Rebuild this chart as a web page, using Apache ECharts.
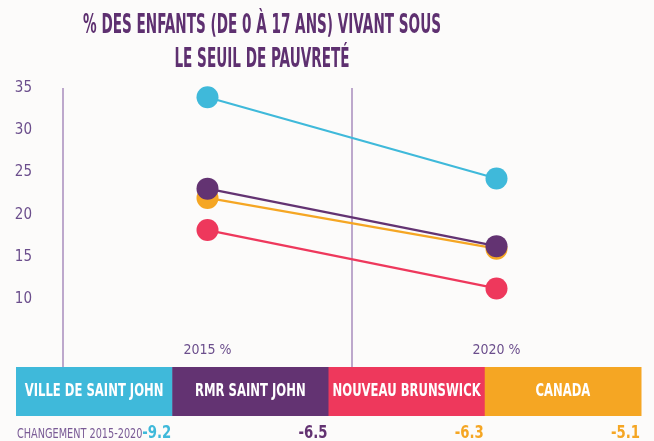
<!DOCTYPE html>
<html>
<head>
<meta charset="utf-8">
<script src="https://cdn.jsdelivr.net/npm/echarts@6/dist/echarts.min.js"></script>
<style>
  html, body { margin: 0; padding: 0; background: #fcfbfa; }
  #graf { width: 654px; height: 441px; }
</style>
</head>
<body>
<div id="graf"></div>
<script>
// Datos del grafico
var titre = ["% DES ENFANTS (DE 0 À 17 ANS) VIVANT SOUS", "LE SEUIL DE PAUVRETÉ"];
var annees = ["2015 %", "2020 %"];
var regions = ["VILLE DE SAINT JOHN", "RMR SAINT JOHN", "NOUVEAU BRUNSWICK", "CANADA"];
var couleurs = ["#3fb9da", "#633372", "#ee385c", "#f5a623"];
var ville = [33.9, 24.3];
var rmr = [23.1, 16.3];
var nb = [18.2, 11.3];
var canada = [22.0, 16.0];
var changements = [-9.2, -6.5, -6.3, -5.1];
var couleursChangement = ["#3fb9da", "#633372", "#f5a623", "#f5a623"];
var ticksY = [10, 15, 20, 25, 30, 35];

var police = "'DejaVu Sans Condensed', 'DejaVu Sans', sans-serif";
var valeurs = [ville, rmr, nb, canada];
var ordre = [0, 3, 2, 1]; // el morado se dibuja encima

var myChart = echarts.init(document.getElementById("graf"));

var series = ordre.map(function (i, k) {
  return {
    name: regions[i],
    type: "line",
    data: valeurs[i],
    z: 2 + k,
    symbol: "circle",
    symbolSize: 22,
    lineStyle: { color: couleurs[i], width: 2.2 },
    itemStyle: { color: couleurs[i] },
    animation: false
  };
});

// texto estrecho (la fuente original es condensada)
function texte(t, x, y, font, fill, align, sx) {
  return {
    type: "text",
    x: x, y: y, z: 101,
    scaleX: sx,
    style: { text: t, x: 0, y: 0, fill: fill, font: font, align: align, verticalAlign: "middle" }
  };
}

var graphic = [];
// titulo
graphic.push(texte(titre[0], 262, 25.5, "bold 27px " + police, "#5e3070", "center", 0.56));
graphic.push(texte(titre[1], 262, 59.5, "bold 27px " + police, "#5e3070", "center", 0.56));

// cajas de leyenda y cambios abajo
var boxLeft = 16, boxW = 156.25;
regions.forEach(function (r, i) {
  graphic.push({
    type: "rect",
    left: boxLeft + i * boxW,
    top: 367,
    z: 100,
    shape: { width: boxW + 0.5, height: 49 },
    style: { fill: couleurs[i] }
  });
  graphic.push(texte(r, boxLeft + i * boxW + boxW / 2, 391.5, "bold 17px " + police, "#ffffff", "center", 0.76));
  graphic.push(texte(changements[i].toFixed(1), boxLeft + (i + 1) * boxW - 1, 433, "bold 18px " + police, couleursChangement[i], "right", 0.82));
});
graphic.push(texte("CHANGEMENT 2015-2020", 17, 434, "13.5px " + police, "#7a5b96", "left", 0.8));

var option = {
  backgroundColor: "#fcfbfa",
  grid: { left: 63, right: 13, top: 88, bottom: 57 },
  xAxis: {
    type: "category",
    data: annees,
    boundaryGap: true,
    axisLine: { show: false },
    axisTick: { show: false },
    splitLine: {
      show: true,
      showMaxLine: false,
      lineStyle: { color: "#a98cbd", width: 1.5 }
    },
    axisLabel: {
      margin: -41,
      color: "#6b4e8c",
      fontFamily: police,
      fontSize: 14
    }
  },
  yAxis: {
    type: "value",
    min: 0,
    max: 35,
    interval: 5,
    axisLine: { show: false },
    axisTick: { show: false },
    splitLine: { show: false },
    axisLabel: {
      margin: 31,
      color: "#6b4e8c",
      fontFamily: police,
      fontSize: 15,
      formatter: function (v) { return ticksY.indexOf(v) >= 0 ? String(v) : ""; }
    }
  },
  graphic: graphic,
  series: series
};

myChart.setOption(option);
</script>
</body>
</html>
